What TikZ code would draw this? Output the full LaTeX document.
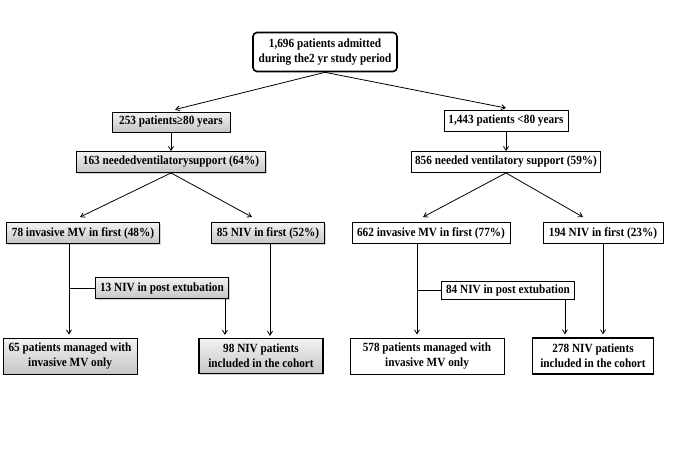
\documentclass[tikz,border=0pt]{standalone}
\usepackage{fontspec}
\setmainfont{Liberation Serif}
\newfontfamily\chartfont[FakeStretch=0.9]{Liberation Serif}
\usetikzlibrary{arrows.meta,shadows}

\begin{document}
\begin{tikzpicture}[x=1pt,y=-1pt,font=\chartfont\fontsize{12.5pt}{15pt}\selectfont\bfseries,
      box/.style={draw=black,fill=white,line width=0.9pt,align=center,inner sep=1pt,minimum height=21pt},
      grey/.style={box,top color=gray!10,bottom color=gray!45,drop shadow={opacity=0.35,shadow xshift=1pt,shadow yshift=-1pt}},
      arr/.style={-{Straight Barb[length=4pt,width=5pt]},line width=0.8pt},
      ln/.style={line width=0.8pt}]
      \useasboundingbox (0,0) rectangle (685,456);
      \node[box,rounded corners=4pt,line width=1.6pt,minimum width=144pt,minimum height=39pt] (top) at (325,52) {1,696 patients admitted\\during the2 yr study period};
      % left branch, 80 and over
      \node[grey,minimum width=118pt,minimum height=20pt] (old) at (171,122) {253 patients≥80 years};
      \node[grey,minimum width=189pt] (oldvs) at (171,162) {163 neededventilatorysupport (64\%)};
      \node[grey,minimum width=153pt] (oldmv) at (83,233) {78 invasive MV in first (48\%)};
      \node[grey,minimum width=113pt] (oldniv) at (268,233) {85 NIV in first (52\%)};
      \node[grey,minimum width=133pt] (oldext) at (162,288) {13 NIV in post extubation};
      \node[grey,minimum width=134pt,minimum height=36pt] (oldonly) at (70,356) {65 patients managed with\\invasive MV only};
      \node[grey,minimum width=124pt,minimum height=35pt,line width=1.2pt] (oldcoh) at (261,356) {98 NIV patients\\included in the cohort};
      % right branch, under 80
      \node[box,minimum width=124pt] (young) at (506,121) {1,443 patients <80 years};
      \node[box,minimum width=189pt] (youngvs) at (506,162) {856 needed ventilatory support (59\%)};
      \node[box,minimum width=158pt] (youngmv) at (431,233) {662 invasive MV in first (77\%)};
      \node[box,minimum width=120pt] (youngniv) at (603,233) {194 NIV in first (23\%)};
      \node[box,minimum width=133pt,minimum height=18pt] (youngext) at (508,290) {84 NIV in post extubation};
      \node[box,minimum width=154pt,minimum height=36pt] (youngonly) at (427,356) {578 patients managed with\\invasive MV only};
      \node[box,minimum width=121pt,minimum height=36pt,line width=1.2pt] (youngcoh) at (593,356) {278 NIV patients\\included in the cohort};
      \draw[arr] (top.south) -- ([xshift=4pt,yshift=2pt]old.north);
      \draw[arr] (top.south) -- ([yshift=2pt]young.north);
      \draw[arr] (old) -- (oldvs);
      \draw[arr] (young) -- (youngvs);
      \draw[arr] (oldvs.south) -- ([xshift=-3pt,yshift=5pt]oldmv.north);
      \draw[arr] (oldvs.south) -- ([xshift=-16pt,yshift=5pt]oldniv.north);
      \draw[arr] (youngvs.south) -- ([xshift=-8pt,yshift=5pt]youngmv.north);
      \draw[arr] (youngvs.south) -- ([xshift=-20pt,yshift=5pt]youngniv.north);
      \draw[arr,shorten >=3pt] ([xshift=-14pt]oldmv.south) -- ([xshift=-14pt]oldmv.south |- oldonly.north);
      \draw[ln] (oldext.west) -- (oldext.west -| oldonly.north);
      \draw[arr,shorten >=3pt] ([xshift=-4pt]oldext.south east) -- ([xshift=-4pt]oldext.south east |- oldcoh.north);
      \draw[arr,shorten >=2pt] ([xshift=2pt]oldniv.south) -- ([xshift=2pt]oldniv.south |- oldcoh.north);
      \draw[arr,shorten >=3pt] ([xshift=-14pt]youngmv.south) -- ([xshift=-14pt]youngmv.south |- youngonly.north);
      \draw[ln] (youngext.west) -- ([xshift=-14pt]youngext.west -| youngmv.south);
      \draw[arr,shorten >=3pt] ([xshift=-10pt]youngext.south east) -- ([xshift=-10pt]youngext.south east |- youngcoh.north);
      \draw[arr,shorten >=3pt] (youngniv.south) -- (youngniv.south |- youngcoh.north);
    \end{tikzpicture}
\end{document}
